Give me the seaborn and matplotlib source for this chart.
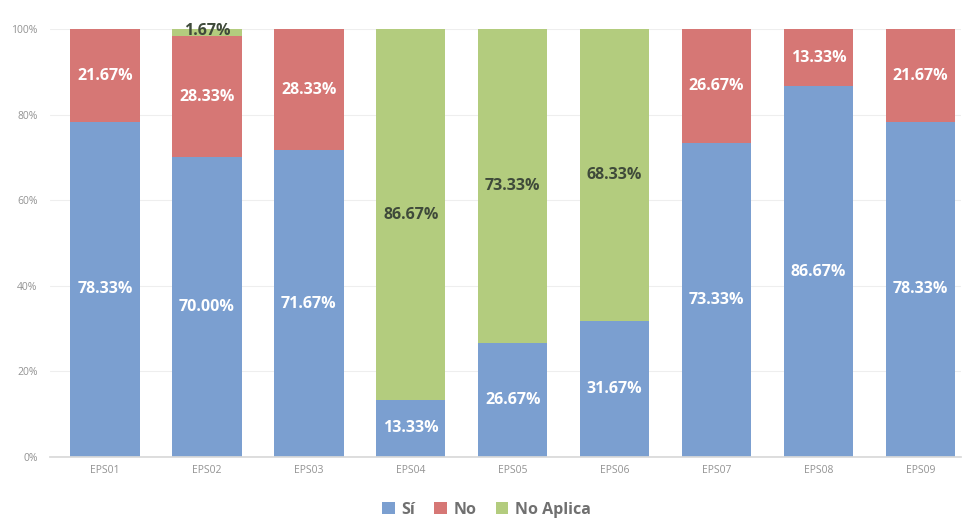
import matplotlib
matplotlib.use("Agg")
import matplotlib.pyplot as plt
import seaborn as sns
import pandas as pd
import numpy as np
from matplotlib.patches import Patch

categories = ["EPS01", "EPS02", "EPS03", "EPS04", "EPS05", "EPS06", "EPS07", "EPS08", "EPS09"]
si = [78.33, 70.00, 71.67, 13.33, 26.67, 31.67, 73.33, 86.67, 78.33]
no = [21.67, 28.33, 28.33, 0.00, 0.00, 0.00, 26.67, 13.33, 21.67]
no_aplica = [0.00, 1.67, 0.00, 86.67, 73.33, 68.33, 0.00, 0.00, 0.00]
series_names = ["Sí", "No", "No Aplica"]

c_si = "#7b9fd0"
c_no = "#d67775"
c_na = "#b3cc7e"

sns.set_theme(style="white")
plt.rcParams["font.family"] = ["Open Sans", "DejaVu Sans"]

df = pd.DataFrame({"cat": categories, "si": si, "no": no, "na": no_aplica})
df["top_no"] = df["si"] + df["no"]
df["top_na"] = df["top_no"] + df["na"]

fig = plt.figure(figsize=(9.63, 5.21), dpi=100)
ax = fig.add_axes([0.052, 0.123, 0.946, 0.821])

# stacked bars drawn as cumulative layers, back to front
for col, color in [("top_na", c_na), ("top_no", c_no), ("si", c_si)]:
    sns.barplot(data=df, x="cat", y=col, color=color, width=0.68,
                saturation=1, ax=ax, linewidth=0, order=categories)

ax.set_ylim(0, 100)
ax.set_xlim(-0.54, 8.4)
ax.set_yticks([0, 20, 40, 60, 80, 100])
ax.set_yticklabels([f"{v}%" for v in [0, 20, 40, 60, 80, 100]])
ax.yaxis.grid(True, color="#eeeeee", linewidth=0.8)
ax.set_axisbelow(True)
for s in ["top", "right", "left"]:
    ax.spines[s].set_visible(False)
ax.spines["bottom"].set_color("#d9d9d9")
ax.tick_params(axis="both", length=0, labelsize=7.5, labelcolor="#939393")
ax.tick_params(axis="x", pad=6)
ax.tick_params(axis="y", pad=9)
ax.set_xlabel("")
ax.set_ylabel("")

lab_kw = dict(ha="center", va="center", fontsize=11.5, fontweight="bold")
for i in range(len(categories)):
    s, n, a = si[i], no[i], no_aplica[i]
    if s > 0:
        ax.text(i, s / 2, f"{s:.2f}%", color="white", **lab_kw)
    if n > 0:
        ax.text(i, s + n / 2, f"{n:.2f}%", color="white", **lab_kw)
    if a > 0:
        if a < 5:
            ax.text(i, s + n + a / 2 + 0.3, f"{a:.2f}%", color="#3f4a3a",
                    clip_on=False, **lab_kw)
        else:
            ax.text(i, s + n + a / 2, f"{a:.2f}%", color="#3f4a3a", **lab_kw)

handles = [Patch(facecolor=c, edgecolor="none") for c in (c_si, c_no, c_na)]
leg = fig.legend(handles, series_names, loc="center", bbox_to_anchor=(0.505, 0.022),
                 ncol=3, frameon=False, handlelength=0.8, handleheight=0.8,
                 handletextpad=0.4, columnspacing=1.2,
                 prop={"size": 11.5, "weight": "bold"})
for t in leg.get_texts():
    t.set_color("#707070")

fig.savefig("out.png", dpi=100)
